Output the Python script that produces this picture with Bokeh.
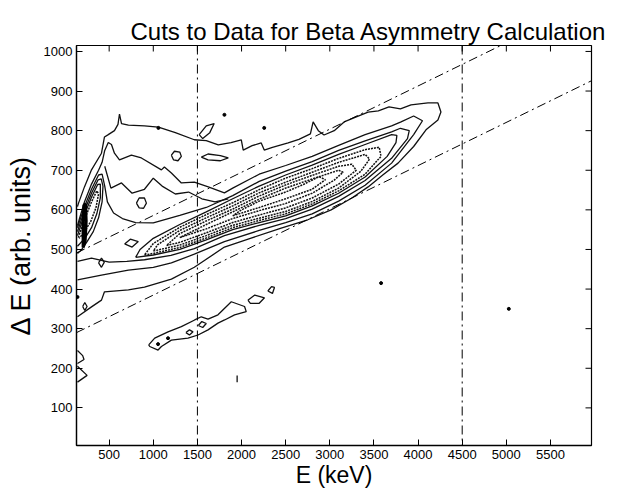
import math
from bokeh.plotting import figure
from bokeh.models import Range1d, Span, FixedTicker, LinearAxis
from bokeh.embed import file_html
from bokeh.resources import INLINE

# ---------------- text / axes ----------------
title_text = "Cuts to Data for Beta Asymmetry Calculation"
x_label = "E (keV)"
y_label = "Δ E (arb. units)"
x_ticks = [500, 1000, 1500, 2000, 2500, 3000, 3500, 4000, 4500, 5000, 5500]
y_ticks = [100, 200, 300, 400, 500, 600, 700, 800, 900, 1000]
x_limits = [130, 5965]
y_limits = [5, 1015]

# ---------------- cut lines ----------------
energy_cuts = [1500, 4500]
low_cut_x = [130, 5965]
low_cut_y = [290, 926]
high_cut_x = [130, 5965]
high_cut_y = [491, 1127]

# ---------------- contour lines (E, dE) ----------------
c1 = [(141,330),(300,355),(413,372),(447,393),(718,398),(900,405),(1205,425),(1465,455),
      (1806,506),(2100,528),(2449,554),(2750,575),(3015,600),(3250,630),(3434,658),(3600,688),
      (3773,718),(3950,760),(4090,802),(4225,827),(4259,847),(4225,870),(4112,870),(3920,865),
      (3800,855),(3671,860),(3550,850),(3434,847),(3300,835),(3162,822),(3050,800),(2935,789),
      (2870,800),(2811,822),(2780,792),(2650,778),(2528,769),(2350,758),(2257,751),(2223,769),
      (2120,762),(2019,751),(1997,777),(1880,770),(1736,764),(1600,775),(1465,777),(1250,795),
      (1058,809),(900,812),(718,814),(640,818),(617,842),(600,816),(560,800),(490,790),(447,784),
      (413,743),(300,701),(220,658),(153,617),(141,608)]
c2 = [(141,423),(413,435),(718,448),(1000,455),(1205,466),(1465,488),(1806,520),(2200,548),
      (2500,568),(2800,590),(3100,622),(3400,662),(3700,718),(3950,790),(4050,825),(3950,837),
      (3807,822),(3700,812),(3400,790),(3100,763),(2800,735),(2500,712),(2200,690),(1900,655),
      (1806,643),(1623,658),(1465,670),(1318,668),(1205,693),(1126,708),(1092,701),(865,731),
      (752,738),(617,726),(560,743),(526,765),(490,770),(450,750),(420,720),(380,700),(300,665),
      (220,620),(160,575),(141,560)]
c3 = [(141,470),(300,478),(500,468),(700,470),(900,474),(1200,485),(1465,502),(1806,535),
      (2200,561),(2500,578),(2800,602),(3100,634),(3400,674),(3700,730),(3880,780),(3900,800),
      (3800,806),(3700,797),(3400,774),(3100,750),(2800,722),(2500,698),(2200,672),(1900,636),
      (1600,606),(1300,586),(1000,567),(800,568),(650,578),(550,592),(480,620),(450,660),
      (420,690),(380,688),(300,652),(220,608),(160,568),(141,555)]
c4 = [(800,480),(1000,486),(1300,500),(1600,524),(1900,550),(2200,568),(2500,585),(2800,610),
      (3100,642),(3400,683),(3650,735),(3750,770),(3760,788),(3700,790),(3400,765),(3100,740),
      (2800,713),(2500,688),(2200,660),(1900,628),(1600,595),(1300,563),(1000,528),(850,500),(800,480)]
c5 = [(900,486),(1000,490),(1300,505),(1600,529),(1900,555),(2200,573),(2500,590),(2800,615),
      (3100,648),(3400,690),(3580,735),(3560,758),(3400,752),(3100,730),(2800,704),(2500,680),
      (2200,651),(1900,618),(1600,588),(1300,556),(1000,515),(900,486)]
c6 = [(1000,496),(1300,511),(1600,535),(1900,561),(2200,579),(2500,596),(2800,621),(3100,655),
      (3350,697),(3450,728),(3400,740),(3100,720),(2800,695),(2500,670),(2200,643),(1900,610),
      (1600,580),(1300,548),(1050,512),(1000,496)]
c7 = [(1150,510),(1300,518),(1600,542),(1900,568),(2200,587),(2500,605),(2800,630),(3100,665),
      (3300,700),(3250,715),(3100,710),(2800,687),(2500,663),(2200,635),(1900,602),(1600,572),
      (1300,540),(1150,510)]
c8 = [(1300,530),(1600,552),(1900,578),(2200,598),(2500,616),(2800,642),(3050,675),(3150,695),
      (3100,700),(2800,678),(2500,655),(2200,627),(1900,595),(1600,563),(1300,530)]
c9 = [(1900,585),(2200,606),(2500,628),(2800,652),(2950,676),(2880,684),(2700,664),(2500,645),
      (2200,622),(2000,600),(1900,585)]
plateau_q = [(450,710),(520,655),(640,668),(760,642),(900,652),(1000,680),(1100,660),(1250,640),
             (1400,645),(1550,628),(1700,620),(1850,628)]
left_band1 = [(141,545),(160,558),(220,598),(300,642),(375,676),(410,678),(430,660),(420,620),
              (380,580),(320,545),(250,520),(190,500),(141,490)]
left_band2 = [(141,535),(220,588),(300,632),(370,664),(400,665),(400,630),(360,590),(300,555),
              (230,530),(170,515),(141,508)]
left_band3 = [(150,530),(220,575),(300,620),(360,648),(380,640),(350,605),(290,570),(220,545),(160,528)]
left_blob = [(205,505),(228,520),(240,572),(232,615),(214,612),(204,565),(205,505)]
loop_a = [(809,617),(840,630),(900,630),(922,617),(890,604),(840,605),(809,617)]
loop_b = [(1205,738),(1240,748),(1300,746),(1318,735),(1280,724),(1230,726),(1205,738)]
loop_c = [(1544,733),(1620,741),(1760,737),(1850,731),(1760,724),(1620,726),(1544,733)]
loop_d = [(1520,790),(1600,812),(1690,818),(1640,795),(1560,780),(1520,790)]
loop_e = [(380,466),(413,478),(445,468),(413,455),(380,466)]
loop_f = [(200,356),(224,366),(250,356),(224,346),(200,356)]
loop_g = [(675,514),(740,526),(830,520),(760,506),(675,514)]
edge_loop1 = [(141,245),(200,232),(215,222),(141,212)]
edge_loop2 = [(141,205),(250,182),(141,165)]
island = [(948,259),(1016,276),(1167,292),(1318,305),(1469,322),(1544,330),(1620,324),(1733,335),
          (1884,368),(2034,356),(2053,343),(1921,335),(1808,322),(1733,314),(1620,297),(1507,284),
          (1393,276),(1205,271),(1092,255),(1054,246),(960,255),(948,259)]
island_loop1 = [(1370,290),(1410,297),(1450,292),(1410,284),(1370,290)]
island_loop2 = [(1510,308),(1550,318),(1600,313),(1560,303),(1510,308)]
island_loop3 = [(2072,372),(2150,385),(2260,378),(2200,364),(2100,364),(2072,372)]
island_loop4 = [(2298,395),(2340,406),(2373,404),(2350,389),(2298,395)]
stray_tick = [(1950,165),(1950,182)]
speck_x = [1058, 2257, 1806, 3581, 5028, 1054, 1167, 141]
speck_y = [807, 807, 840, 415, 350, 261, 276, 380]

solid_contours = [c1, c2, c3, c4, plateau_q, left_band1, left_band2, loop_a, loop_b, loop_c,
                  loop_d, loop_e, loop_f, loop_g, edge_loop1, edge_loop2, island, island_loop1,
                  island_loop2, island_loop3, island_loop4, stray_tick]
dotted_contours = [c5, c6, c7, c8, c9, left_band3]

FONT = "Liberation Sans"

p = figure(width=623, height=490, output_backend="svg", toolbar_location=None,
           x_range=Range1d(*x_limits), y_range=Range1d(*y_limits),
           min_border_left=76, min_border_right=32, min_border_top=45, min_border_bottom=45)
p.background_fill_color = "white"
p.border_fill_color = "white"
p.outline_line_color = "black"
p.outline_line_width = 1.2
p.grid.visible = False

bottom_axis = p.below[0]
left_axis = p.left[0]

# empty top axis used only as a spacer so the title sits higher in the margin
spacer = LinearAxis(ticker=FixedTicker(ticks=[]), axis_line_color=None,
                    major_tick_out=15, major_tick_in=0, minor_tick_line_color=None,
                    major_tick_line_color=None)
p.add_layout(spacer, "above")

p.title.text = title_text
p.title.align = "left"
p.title.offset = 54
p.title.text_font = FONT
p.title.text_font_size = "24px"
p.title.text_font_style = "normal"
p.title.text_color = "black"
p.title.standoff = 2

for ax, ticks, lab in ((bottom_axis, x_ticks, x_label), (left_axis, y_ticks, y_label)):
    ax.ticker = FixedTicker(ticks=ticks)
    ax.axis_label = lab
    ax.axis_label_text_font = FONT
    ax.axis_label_text_font_style = "normal"
    ax.axis_label_text_color = "black"
    ax.major_label_text_font = FONT
    ax.major_label_text_font_size = "13px"
    ax.major_label_text_color = "black"
    ax.major_tick_in = 6
    ax.major_tick_out = 0
    ax.minor_tick_line_color = None
    ax.axis_line_color = "black"
    ax.axis_line_width = 1.3
    ax.major_tick_line_color = "black"
bottom_axis.axis_label_text_font_size = "23px"
left_axis.axis_label_text_font_size = "27px"
bottom_axis.major_label_standoff = 4
bottom_axis.axis_label_standoff = 0
left_axis.major_label_standoff = 4
left_axis.axis_label_standoff = 5

# inward ticks on the top and right frame edges
p.scatter(x_ticks, [y_limits[1]] * len(x_ticks), marker="dash", angle=math.pi / 2,
          size=12, line_color="black", line_width=1)
p.scatter([x_limits[1]] * len(y_ticks), y_ticks, marker="dash",
          size=12, line_color="black", line_width=1)

p.multi_line(xs=[[pt[0] for pt in c] for c in solid_contours],
             ys=[[pt[1] for pt in c] for c in solid_contours],
             line_color="#111111", line_width=1.3)
p.multi_line(xs=[[pt[0] for pt in c] for c in dotted_contours],
             ys=[[pt[1] for pt in c] for c in dotted_contours],
             line_color="#111111", line_width=1.5, line_dash="2 1")
p.line([pt[0] for pt in left_blob], [pt[1] for pt in left_blob], line_color="black", line_width=3)
p.scatter(speck_x, speck_y, size=3, color="black")

for xc in energy_cuts:
    p.add_layout(Span(location=xc, dimension="height", line_color="black",
                      line_width=1, line_dash="9 4 2 4"))
p.line(low_cut_x, low_cut_y, line_color="black", line_width=1, line_dash="9 4 2 4")
p.line(high_cut_x, high_cut_y, line_color="black", line_width=1, line_dash="9 4 2 4")

open("out.html", "w").write(file_html(p, INLINE))
